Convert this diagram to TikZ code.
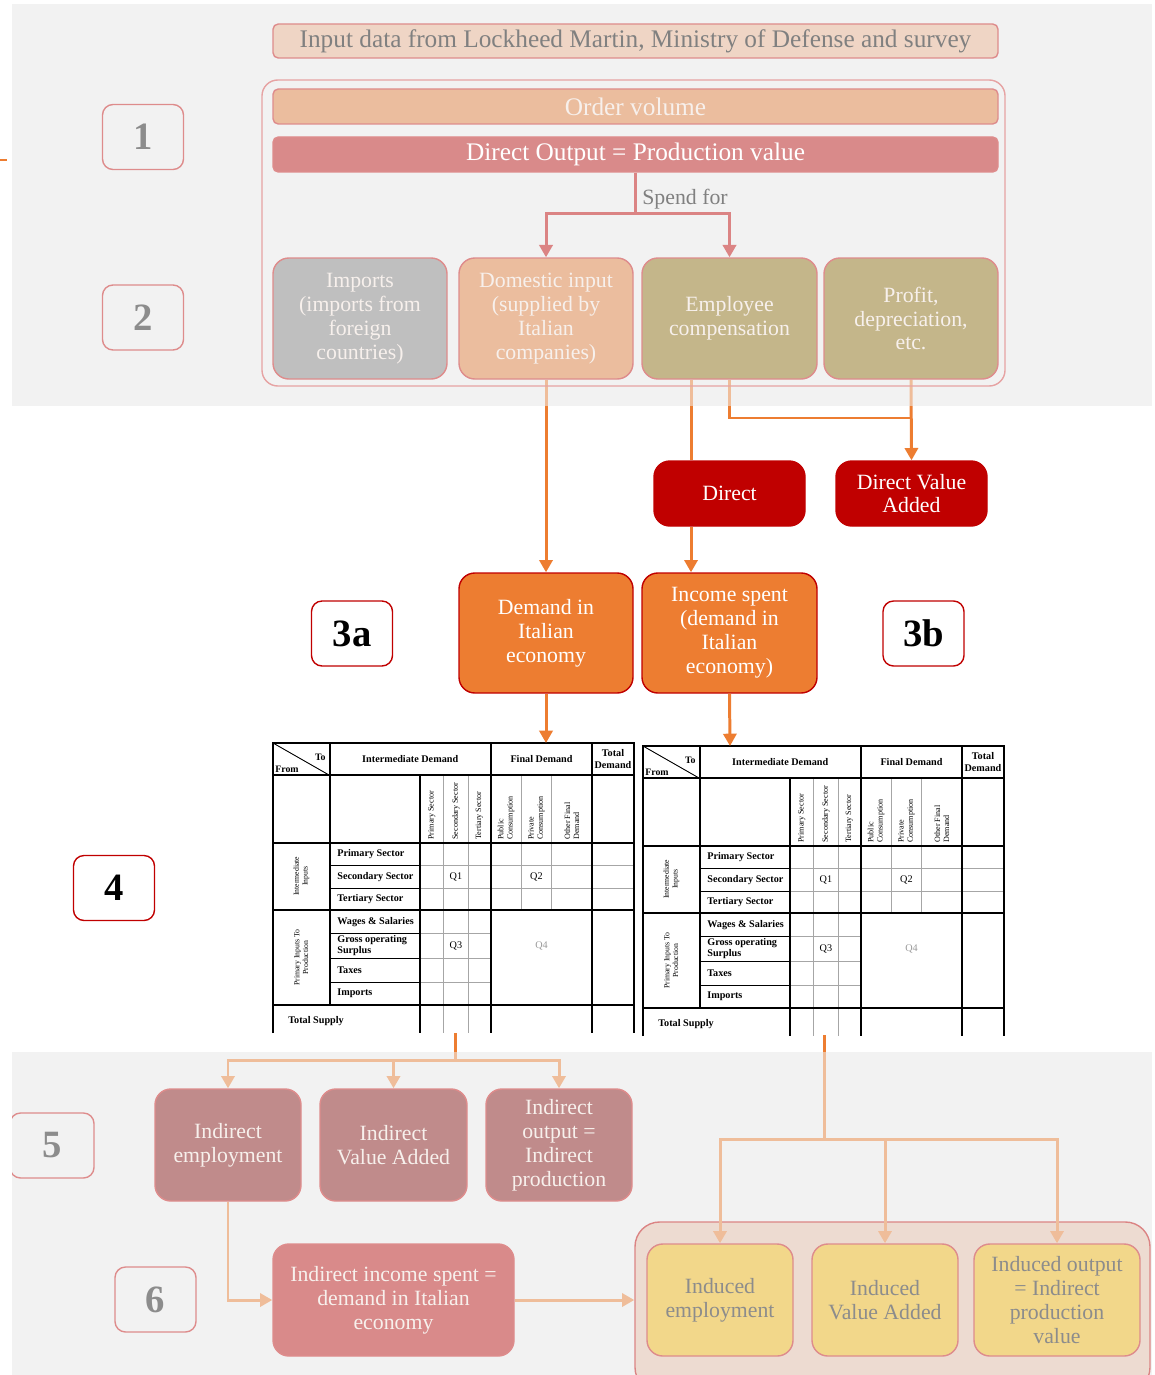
\documentclass[tikz,border=0pt]{standalone}
\usepackage{fontspec}
\setmainfont{Liberation Serif}
\usetikzlibrary{arrows.meta,calc}

\definecolor{bandgrey}{HTML}{F2F2F2}
\definecolor{linkorange}{HTML}{ED7D31}
\definecolor{darkred}{HTML}{C00000}
\definecolor{inputfill}{HTML}{EFD5C5}
\definecolor{peachfill}{HTML}{EBBD9E}
\definecolor{rosefill}{HTML}{D98A8A}
\definecolor{greyfill}{HTML}{BFBFBF}
\definecolor{olivefill}{HTML}{C4B68A}
\definecolor{mauvefill}{HTML}{C08B8B}
\definecolor{groupbase}{HTML}{E9C1AB}
\definecolor{yellowfill}{HTML}{F2D78A}
\definecolor{paleedge}{HTML}{DE8C8C}
\definecolor{frameedge}{HTML}{E6A3A3}
\definecolor{greytext}{HTML}{808080}
\definecolor{paletext}{HTML}{F7F0EC}

\pgfdeclarelayer{bg}
\pgfdeclarelayer{wash}
\pgfdeclarelayer{fg}
\pgfsetlayers{bg,main,wash,fg}

\tikzset{
    sz/.style 2 args={
      minimum width=#1*0.02cm,
      minimum height=#2*0.02cm
    },
    flowbox/.style={
      rounded corners=9pt,
      align=center,
      inner sep=0pt,
      line width=0.8pt,
      font=\fontsize{12.4}{13.6}\selectfont
    },
    palebox/.style={
      flowbox,
      draw=paleedge,
      text=paletext
    },
    hotbox/.style={
      flowbox,
      draw=darkred,
      text=white
    },
    strip/.style={
      rounded corners=3pt,
      inner sep=0pt,
      line width=0.8pt,
      draw=paleedge,
      font=\fontsize{14.4}{16}\selectfont
    },
    numbox/.style={
      rounded corners=6pt,
      draw=#1,
      line width=0.8pt,
      sz={81}{65},
      font=\fontsize{22}{22}\selectfont\bfseries
    },
    link/.style={
      line width=1.7pt,
      draw=linkorange
    },
    arrowlink/.style={
      link,
      -{Triangle[length=7pt,width=7.5pt]}
    },
    redarrow/.style={
      arrowlink,
      draw=darkred
    },
    tgrid/.style={draw=black!35, line width=0.5pt},
    trule/.style={draw=black, line width=0.5pt},
    tbold/.style={draw=black, line width=1.1pt},
    tcorner/.style={inner sep=0pt, font=\fontsize{5.6}{6}\selectfont\bfseries},
    thead/.style={inner sep=0pt, align=center, font=\fontsize{5.8}{6.4}\selectfont\bfseries},
    tcol/.style={inner sep=0pt, rotate=90, anchor=west, align=left,
      font=\fontsize{4.6}{5.2}\selectfont},
    trow/.style={inner sep=0pt, anchor=west, align=left,
      font=\fontsize{5.8}{6.4}\selectfont\bfseries},
    tside/.style={inner sep=0pt, rotate=90, align=center,
      font=\fontsize{4.4}{5}\selectfont},
    tq/.style={inner sep=0pt, font=\fontsize{5.8}{6}\selectfont},
    iotable/.pic={
      % grey grid
      \draw[tgrid] (146.7,122.7) -- (360.7,122.7) (146.7,145) -- (360.7,145);
      \foreach \y in {190.7,215,239} \draw[tgrid] (146.7,\y) -- (217.7,\y);
      \foreach \x in {170.7,195} \draw[tgrid] (\x,32.4) -- (\x,290);
      \foreach \x in {248.4,278.4} \draw[tgrid] (\x,32.4) -- (\x,166.7);
      % black rules
      \foreach \y in {122.7,145,190.7,215,239} \draw[trule] (56.7,\y) -- (146.7,\y);
      \draw[trule] (0,0) -- (56.7,32.4);
      \draw[tbold] (0,290) -- (0,0) -- (360.7,0) -- (360.7,290);
      \foreach \y in {32.4,100,166.7,262.4} \draw[tbold] (0,\y) -- (360.7,\y);
      \draw[tbold] (56.7,0) -- (56.7,262.4);
      \draw[tbold] (146.7,32.4) -- (146.7,290);
      \foreach \x in {217.7,319.4} \draw[tbold] (\x,0) -- (\x,290);
      % headings
      \node[tcorner, anchor=east] (-to) at (53,14) {To};
      \node[tcorner, anchor=west] (-from) at (2,26) {From};
      \node[thead] (-id) at (137.2,16) {Intermediate Demand};
      \node[thead] (-fd) at (268.5,16) {Final Demand};
      \node[thead] (-td) at (340,16) {Total\\Demand};
      \foreach \t/\x [count=\i] in {Primary Sector/158.7, Secondary Sector/182.9,
          Tertiary Sector/206.4, {Public\\Consumption}/233,
          {Private\\Consumption}/263.4, {Other Final\\Demand}/298.9}
        \node[tcol] (-c\i) at (\x,97) {\t};
      \foreach \t/\y [count=\i] in {Primary Sector/111.3, Secondary Sector/133.9,
          Tertiary Sector/155.9, Wages \& Salaries/178.7,
          {Gross operating\\Surplus}/202.9, Taxes/227, Imports/250.7}
        \node[trow] (-r\i) at (64,\y) {\t};
      \node[tside] (-ii) at (28.3,133.3) {Intermediate\\Inputs};
      \node[tside] (-pi) at (28.3,214.5) {Primary Inputs To\\Production};
      \node[trow] (-ts) at (15,278) {Total Supply};
      % quadrants
      \node[tq] (-q1) at (182.9,133.9) {Q1};
      \node[tq] (-q2) at (263.4,133.9) {Q2};
      \node[tq] (-q3) at (182.9,202.9) {Q3};
      \node[tq, text=black!40] (-q4) at (268.5,202.9) {Q4};
    }
  }

\begin{document}
\begin{tikzpicture}[x=0.02cm, y=-0.02cm]
      \useasboundingbox (0,0) rectangle (1154,1375);

      % grey bands, and the frame round the induced boxes
      \begin{pgfonlayer}{bg}
        \fill[bandgrey] (12,4) rectangle (1152,406);
        \fill[bandgrey] (12,1052) rectangle (1152,1375);
        \begin{scope}
          \clip (12,1052) rectangle (1152,1375);
          \node[draw=darkred, fill=groupbase, line width=0.8pt, rounded corners=14pt,
            sz={515}{170}] (indgrp) at (892.5,1307) {};
        \end{scope}
      \end{pgfonlayer}

      % top band
      \begin{pgfonlayer}{fg}
        \node[strip, fill=inputfill, text=greytext, sz={725}{34}] (input) at (635.5,41)
          {Input data from Lockheed Martin, Ministry of Defense and survey};
        \draw[frameedge, line width=0.8pt, rounded corners=9pt] (262,80) rectangle (1005,386);
        \node[strip, fill=peachfill, text=paletext, sz={725}{35}] (order) at (635.5,106.5) {Order volume};
        \node[strip, fill=rosefill, text=white, sz={725}{35}] (dout) at (635.5,154.5)
          {Direct Output = Production value};
        \node[palebox, fill=greyfill, sz={174}{121}] (imp) at (360,318.5)
          {Imports\\(imports from\\foreign\\countries)};
        \node[palebox, fill=peachfill, sz={174}{121}] (dom) at (546,318.5)
          {Domestic input\\(supplied by\\Italian\\companies)};
        \node[palebox, fill=olivefill, sz={175}{121}] (emp) at (729.5,318.5)
          {Employee\\compensation};
        \node[palebox, fill=olivefill, sz={174}{121}] (prof) at (911,318.5)
          {Profit,\\depreciation,\\etc.};
        \node[anchor=west, inner sep=0pt, text=greytext, font=\fontsize{12.4}{13.4}\selectfont]
          (spend) at (642,199) {Spend for};
        \node[numbox=paleedge, text=black!45] (lab1) at (143,137) {1};
        \node[numbox=paleedge, text=black!45] (lab2) at (143,317.5) {2};
      \end{pgfonlayer}

      % middle part
      \node[hotbox, fill=darkred, sz={151}{65}] (direct) at (729.5,493.5) {Direct};
      \node[hotbox, fill=darkred, sz={151}{65}] (dva) at (911.5,493.5) {Direct Value\\Added};
      \node[hotbox, fill=linkorange, sz={174}{120}] (demand) at (546,633)
        {Demand in\\Italian\\economy};
      \node[hotbox, fill=linkorange, sz={175}{120}] (income) at (729.5,633)
        {Income spent\\(demand in\\Italian\\economy)};
      \node[numbox=darkred, fill=white] (lab3a) at (352,633.5) {3a};
      \node[numbox=darkred, fill=white] (lab3b) at (923.5,633.5) {3b};
      \node[numbox=darkred, fill=white] (lab4) at (114,888) {4};

      % input-output tables
      \pic (tA) at (273,743) {iotable};
      \pic (tB) at (643,746) {iotable};
      \coordinate (tAin) at (546,743);
      \coordinate (tBin) at (730,746);
      \coordinate (tAout) at (455,1033);
      \coordinate (tBout) at (824,1035);

      % bottom band
      \begin{pgfonlayer}{fg}
        \begin{scope}
          \clip (12,1052) rectangle (1152,1375);
          \node[numbox=paleedge, text=black!45, sz={84}{65}] (lab5) at (52,1145.5) {5};
          \node[numbox=paleedge, text=black!45] (lab6) at (155.5,1299.5) {6};
          \node[palebox, fill=mauvefill, sz={146}{112}] (ind1) at (228,1145) {Indirect\\employment};
          \node[palebox, fill=mauvefill, sz={147}{112}] (ind2) at (393.5,1145) {Indirect\\Value Added};
          \node[palebox, fill=mauvefill, sz={146}{112}] (ind3) at (559,1145)
            {Indirect\\output =\\Indirect\\production};
          \node[palebox, fill=rosefill, sz={241}{112}] (incsp) at (393.5,1300)
            {Indirect income spent =\\demand in Italian\\economy};
          \node[palebox, fill=yellowfill, text=black!45, sz={146}{112}] (ib1) at (720,1300)
            {Induced\\employment};
          \node[palebox, fill=yellowfill, text=black!45, sz={146}{112}] (ib2) at (885,1300)
            {Induced\\Value Added};
          \node[palebox, fill=yellowfill, text=black!45, sz={166}{112}] (ib3) at (1057,1300)
            {Induced output\\= Indirect\\production\\value};
        \end{scope}
      \end{pgfonlayer}

      % connectors
      \draw[redarrow] (dout.south) -- ++(0,41) -| (dom.north);
      \draw[redarrow] (dout.south) -- ++(0,41) -| (emp.north);
      \coordinate (vajoin) at (911,418);
      \draw[arrowlink] (dom.south) -- (demand.north);
      \draw[link] ($(emp.south)+(-38.5,0)$) -- ($(direct.north)+(-38.5,0)$);
      \draw[arrowlink] ($(direct.south)+(-38.5,0)$) -- ($(income.north)+(-38.5,0)$);
      \draw[link] (emp.south) |- (vajoin);
      \draw[arrowlink] (prof.south) -- (dva.north);
      \draw[arrowlink] (demand.south) -- (tAin);
      \draw[arrowlink] (income.south) -- (tBin);
      \coordinate (splitA) at (455,1060);
      \foreach \n in {ind1,ind2,ind3}
        \draw[arrowlink] (tAout) -- (splitA) -| (\n.north);
      \draw[arrowlink] (ind1.south) |- (incsp.west);
      \draw[arrowlink] (incsp.east) -- (incsp.east -| indgrp.west);
      \coordinate (splitB) at (824,1139);
      \foreach \n in {ib1,ib2,ib3}
        \draw[arrowlink] (tBout) -- (splitB) -| (\n.north);
      \draw[link, line width=1pt] (0,160) -- (7,160);

      % wash over the grey bands
      \begin{pgfonlayer}{wash}
        \fill[bandgrey, opacity=0.55] (12,4) rectangle (1152,406);
        \fill[bandgrey, opacity=0.55] (12,1052) rectangle (1152,1375);
      \end{pgfonlayer}
    \end{tikzpicture}
\end{document}
